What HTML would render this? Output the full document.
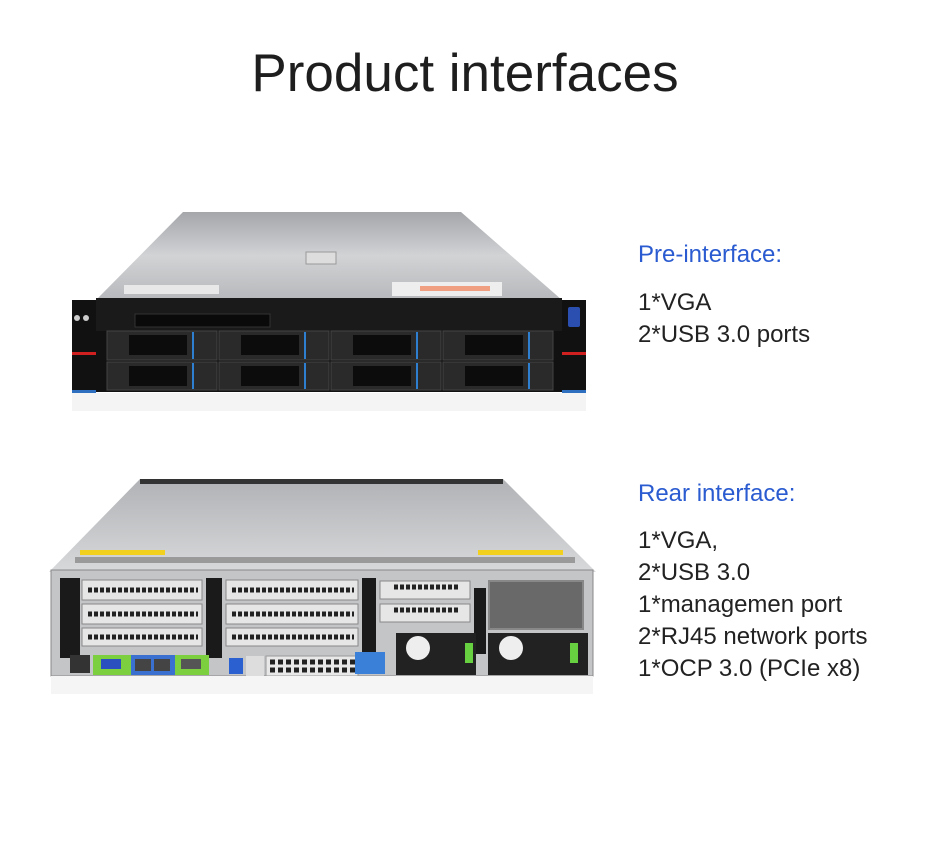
<!DOCTYPE html>
<html><head><meta charset="utf-8"><style>
html,body{margin:0;padding:0;background:#fff;}
body{width:930px;height:858px;position:relative;overflow:hidden;font-family:"Liberation Sans",sans-serif;}
.t{position:absolute;left:0;width:930px;text-align:center;top:43px;font-size:53px;color:#1e1e1e;}
.tx{position:absolute;left:638px;font-size:24px;color:#222;line-height:32px;}
.b{color:#2a5bd0;}
</style></head><body>
<div class="t">Product interfaces</div>
<div class="tx b" style="top:239px">Pre-interface:</div>
<div class="tx" style="top:287px">1*VGA<br>2*USB 3.0 ports</div>
<div class="tx b" style="top:478px">Rear interface:</div>
<div class="tx" style="top:525px">1*VGA,<br>2*USB 3.0<br>1*managemen port<br>2*RJ45 network ports<br>1*OCP 3.0 (PCIe x8)</div>
<svg width="930" height="858" style="position:absolute;left:0;top:0">
<defs>
<linearGradient id="lid" x1="0" y1="0" x2="0" y2="1"><stop offset="0" stop-color="#a4a6aa"/><stop offset="0.5" stop-color="#d2d3d5"/><stop offset="1" stop-color="#b6b8bb"/></linearGradient>
<linearGradient id="lid2" x1="0" y1="0" x2="0" y2="1"><stop offset="0" stop-color="#b0b2b5"/><stop offset="1" stop-color="#d8d9db"/></linearGradient>
</defs>
<!-- FRONT -->
<polygon points="183,212 461,212 562,300 96,300" fill="url(#lid)"/>
<rect x="306" y="252" width="30" height="12" fill="#ddd" stroke="#999"/>
<rect x="124" y="285" width="95" height="9" fill="#e8e8e8"/>
<rect x="392" y="282" width="110" height="14" fill="#eee"/>
<rect x="420" y="286" width="70" height="5" fill="#f0a080"/>
<rect x="96" y="298" width="466" height="34" fill="#1a1a1a"/>
<rect x="135" y="314" width="135" height="13" fill="#0a0a0a" stroke="#333"/>
<rect x="72" y="300" width="24" height="92" fill="#111"/>
<rect x="562" y="300" width="24" height="92" fill="#111"/>
<rect x="72" y="352" width="24" height="3" fill="#d02020"/>
<rect x="562" y="352" width="24" height="3" fill="#d02020"/>
<rect x="72" y="390" width="24" height="3" fill="#2f6fc0"/>
<rect x="562" y="390" width="24" height="3" fill="#2f6fc0"/>
<rect x="568" y="307" width="12" height="20" rx="2" fill="#2b4fb0"/>
<circle cx="77" cy="318" r="3" fill="#ccc"/><circle cx="86" cy="318" r="3" fill="#ccc"/>
<rect x="96" y="331" width="466" height="61" fill="#111"/>
<g fill="#2a2a2a" stroke="#444">
<rect x="107" y="331" width="110" height="29"/><rect x="219" y="331" width="110" height="29"/><rect x="331" y="331" width="110" height="29"/><rect x="443" y="331" width="110" height="29"/>
<rect x="107" y="362" width="110" height="28"/><rect x="219" y="362" width="110" height="28"/><rect x="331" y="362" width="110" height="28"/><rect x="443" y="362" width="110" height="28"/>
</g>
<g fill="#0c0c0c">
<rect x="129" y="335" width="58" height="20"/><rect x="241" y="335" width="58" height="20"/><rect x="353" y="335" width="58" height="20"/><rect x="465" y="335" width="58" height="20"/>
<rect x="129" y="366" width="58" height="20"/><rect x="241" y="366" width="58" height="20"/><rect x="353" y="366" width="58" height="20"/><rect x="465" y="366" width="58" height="20"/>
</g>
<g fill="#2f7fd0">
<rect x="192" y="332" width="2" height="27"/><rect x="304" y="332" width="2" height="27"/><rect x="416" y="332" width="2" height="27"/><rect x="528" y="332" width="2" height="27"/>
<rect x="192" y="363" width="2" height="26"/><rect x="304" y="363" width="2" height="26"/><rect x="416" y="363" width="2" height="26"/><rect x="528" y="363" width="2" height="26"/>
</g>
<rect x="72" y="393" width="514" height="18" fill="#f4f4f4"/>
<!-- REAR -->
<polygon points="140,479 503,479 596,572 49,572" fill="url(#lid2)"/>
<rect x="140" y="479" width="363" height="5" fill="#333"/>
<rect x="80" y="550" width="85" height="5" fill="#f2d020"/>
<rect x="478" y="550" width="85" height="5" fill="#f2d020"/>
<rect x="75" y="557" width="500" height="6" fill="#9a9a9a"/>
<rect x="51" y="570" width="542" height="106" fill="#c4c5c7" stroke="#888"/>
<rect x="60" y="578" width="20" height="80" fill="#1a1a1a"/>
<rect x="206" y="578" width="16" height="80" fill="#1a1a1a"/>
<rect x="362" y="578" width="14" height="80" fill="#1a1a1a"/>
<rect x="474" y="588" width="12" height="66" fill="#1a1a1a"/>
<g fill="#e6e6e6" stroke="#888">
<rect x="82" y="580" width="120" height="20"/><rect x="82" y="604" width="120" height="20"/><rect x="82" y="628" width="120" height="18"/>
<rect x="226" y="580" width="132" height="20"/><rect x="226" y="604" width="132" height="20"/><rect x="226" y="628" width="132" height="18"/>
<rect x="380" y="581" width="90" height="18"/><rect x="380" y="604" width="90" height="18"/>
</g>
<g stroke="#222" stroke-width="5" stroke-dasharray="4,2">
<line x1="88" y1="590" x2="198" y2="590"/><line x1="88" y1="614" x2="198" y2="614"/><line x1="88" y1="637" x2="198" y2="637"/>
<line x1="232" y1="590" x2="354" y2="590"/><line x1="232" y1="614" x2="354" y2="614"/><line x1="232" y1="637" x2="354" y2="637"/>
<line x1="394" y1="587" x2="460" y2="587"/><line x1="394" y1="610" x2="460" y2="610"/>
</g>
<rect x="488" y="580" width="96" height="50" fill="#888"/>
<rect x="490" y="582" width="92" height="46" fill="#555" opacity="0.6"/>
<rect x="70" y="655" width="20" height="18" fill="#333"/>
<rect x="93" y="655" width="38" height="20" fill="#7cd040"/>
<rect x="101" y="659" width="20" height="10" fill="#2a50c0"/>
<rect x="131" y="655" width="44" height="20" fill="#3a70d0"/>
<rect x="135" y="659" width="16" height="12" fill="#444"/><rect x="154" y="659" width="16" height="12" fill="#444"/>
<rect x="175" y="655" width="34" height="20" fill="#7cd040"/>
<rect x="181" y="659" width="20" height="10" fill="#555"/>
<rect x="229" y="658" width="14" height="16" fill="#2a60d0"/>
<rect x="246" y="656" width="18" height="20" fill="#ddd"/>
<rect x="266" y="656" width="92" height="20" fill="#e8e8e8" stroke="#999"/>
<g stroke="#222" stroke-width="5" stroke-dasharray="5,3"><line x1="270" y1="662" x2="356" y2="662"/><line x1="270" y1="670" x2="356" y2="670"/></g>
<rect x="355" y="652" width="30" height="22" fill="#3a80d8"/>
<rect x="396" y="633" width="80" height="42" fill="#222"/>
<rect x="488" y="633" width="100" height="42" fill="#222"/>
<circle cx="418" cy="648" r="12" fill="#eee"/><circle cx="511" cy="648" r="12" fill="#eee"/>
<rect x="465" y="643" width="8" height="20" fill="#66d040"/><rect x="570" y="643" width="8" height="20" fill="#66d040"/>
<rect x="51" y="676" width="542" height="18" fill="#f5f5f5"/>
</svg>
</body></html>
